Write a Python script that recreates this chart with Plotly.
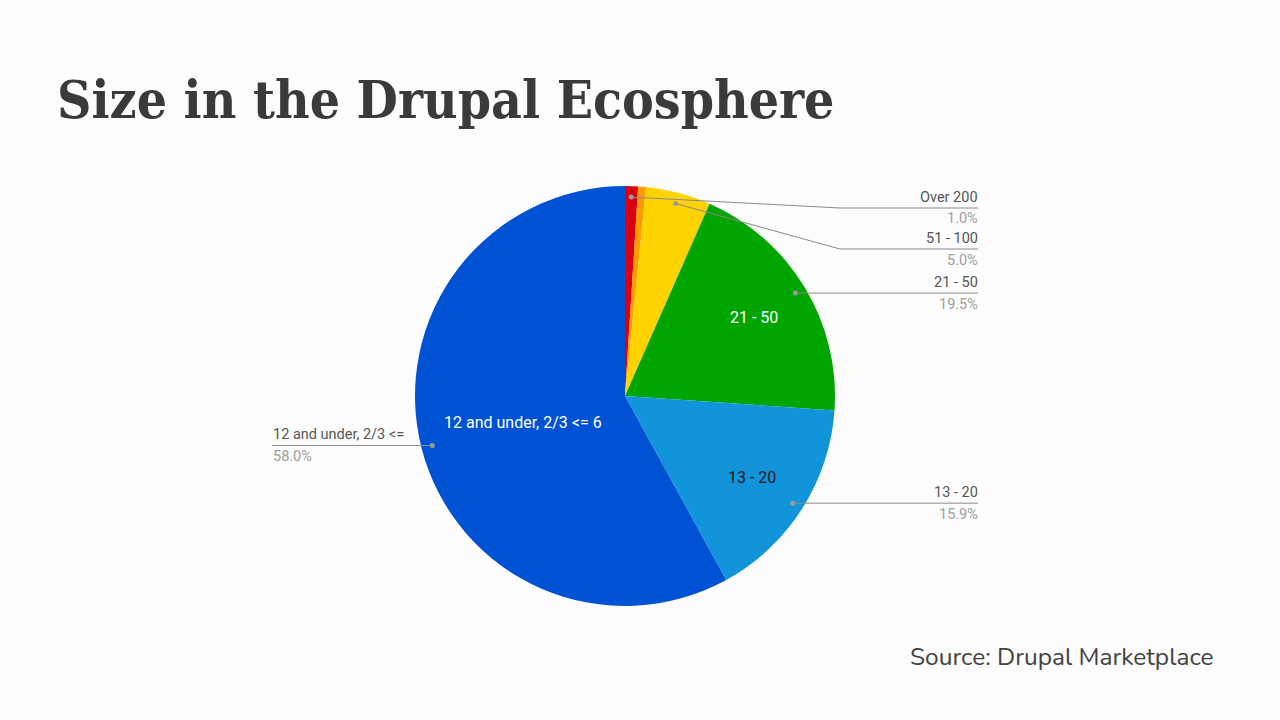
import math
import plotly.graph_objects as go

# ---------------- data ----------------
labels = ["Over 200", "101 - 200", "51 - 100", "21 - 50", "13 - 20", "12 and under, 2/3 <= 6"]
values = [1.0, 0.6, 5.0, 19.5, 15.9, 58.0]
outside_names = ["Over 200", None, "51 - 100", "21 - 50", "13 - 20", "12 and under, 2/3 <="]
inside_text = ["", "", "", "21 - 50", "13 - 20", "12 and under, 2/3 <= 6"]

title_text = "Size in the Drupal Ecosphere"
source_text = "Source: Drupal Marketplace"

# ---------------- style ----------------
colors = ["#d90012", "#ff9a00", "#ffd300", "#00a500", "#1294db", "#0052d4"]
inside_colors = ["white", "white", "white", "white", "#1a1a1a", "white"]
inside_r = [0, 0, 0, 0.72, 0.72, 0.5]

W, H = 1280, 720
CX, CY, R = 625, 396, 210
DOT_R = 199
RIGHT_X = 978
LEFT_X = 272
ELBOW_X = 840
MIN_TOP = 208
GAP = 41
BG = "#fbfcfb"
LINE_COL = "#8a8a8a"
LBL_SIZE = 14.5


def px(x):
    return x / W


def py(y):
    return 1 - y / H


fig = go.Figure()
fig.add_trace(go.Pie(
    labels=labels, values=values, sort=False, direction="clockwise", rotation=0,
    marker=dict(colors=colors, line=dict(width=0)),
    textinfo="none", hoverinfo="label+percent", showlegend=False,
    domain=dict(x=[px(CX - R), px(CX + R)], y=[py(CY + R), py(CY - R)]),
))

total = sum(values)
cum = 0.0
annotations = []
shapes = []
prev_right = None
for i, v in enumerate(values):
    frac = v / total
    mid = (cum + frac / 2) * 2 * math.pi
    cum += frac
    sx, sy = math.sin(mid), -math.cos(mid)
    # inside label
    if inside_text[i]:
        annotations.append(dict(
            x=px(CX + sx * R * inside_r[i]), y=py(CY + sy * R * inside_r[i]),
            xref="paper", yref="paper", text=inside_text[i], showarrow=False,
            font=dict(family="Roboto", size=16, color=inside_colors[i]),
            xanchor="center", yanchor="middle"))
    name = outside_names[i]
    if not name:
        continue
    dx, dy = CX + sx * DOT_R, CY + sy * DOT_R
    pct = f"{v / total * 100:.1f}%"
    if sx >= 0:
        ly = max(dy, MIN_TOP)
        if prev_right is not None:
            ly = max(ly, prev_right + GAP)
        prev_right = ly
        if abs(ly - dy) > 1:
            path = f"M {px(dx)},{py(dy)} L {px(ELBOW_X)},{py(ly)} L {px(RIGHT_X)},{py(ly)}"
        else:
            ly = dy
            path = f"M {px(dx)},{py(dy)} L {px(RIGHT_X)},{py(ly)}"
        tx, anchor = RIGHT_X + 1, "right"
    else:
        ly = dy
        path = f"M {px(dx)},{py(dy)} L {px(LEFT_X)},{py(ly)}"
        tx, anchor = LEFT_X, "left"
    shapes.append(dict(type="path", path=path, xref="paper", yref="paper",
                       line=dict(color=LINE_COL, width=1)))
    shapes.append(dict(type="circle", xref="paper", yref="paper",
                       x0=px(dx - 2.5), x1=px(dx + 2.5), y0=py(dy + 2.5), y1=py(dy - 2.5),
                       fillcolor="#9a9a9a", line=dict(width=0)))
    annotations.append(dict(x=px(tx), y=py(ly - 1.5), xref="paper", yref="paper",
                            text=name, showarrow=False, xanchor=anchor, yanchor="bottom",
                            borderpad=0,
                            font=dict(family="Roboto", size=LBL_SIZE, color="#555555")))
    annotations.append(dict(x=px(tx), y=py(ly + 1.5), xref="paper", yref="paper",
                            text=pct, showarrow=False, xanchor=anchor, yanchor="top",
                            borderpad=0,
                            font=dict(family="Roboto", size=LBL_SIZE, color="#9e9e9e")))

annotations.append(dict(x=px(55), y=py(99), xref="paper", yref="paper", text=f"<b>{title_text}</b>",
                        showarrow=False, xanchor="left", yanchor="middle",
                        font=dict(family="Roboto Slab, DejaVu Serif Condensed, DejaVu Serif", size=53,
                                  color="#3a3a3a")))
annotations.append(dict(x=px(1216), y=py(657), xref="paper", yref="paper", text=source_text,
                        showarrow=False, xanchor="right", yanchor="middle",
                        font=dict(family="Nunito, Lato, Open Sans", size=24.5, color="#424242")))

fig.update_layout(width=W, height=H, margin=dict(l=0, r=0, t=0, b=0),
                  paper_bgcolor=BG, plot_bgcolor=BG,
                  annotations=annotations, shapes=shapes)

fig.write_html("out.html")
